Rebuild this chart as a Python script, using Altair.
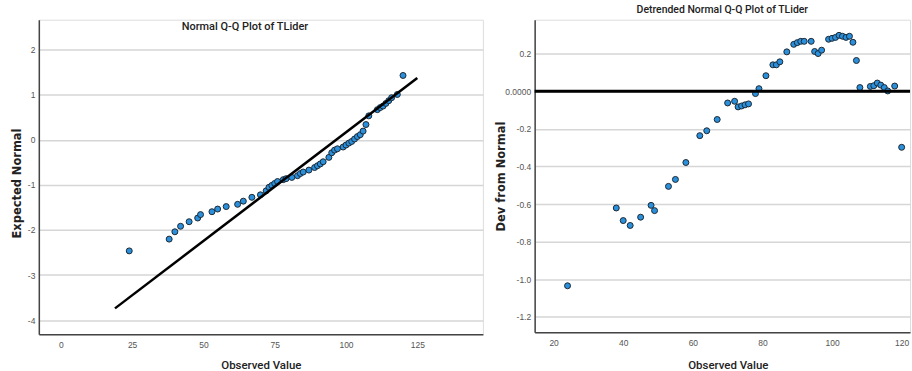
import altair as alt
import pandas as pd

# Observed values (x), expected normal (left panel y), deviation from normal (right panel y)
observed = [24, 38, 40, 42, 45, 48, 49, 53, 55, 58, 62, 64, 67, 70, 72, 73, 74, 75, 76, 78,
            79, 81, 83, 84, 85, 87, 89, 90, 91, 92, 94, 95, 96, 97, 99, 100, 101, 102, 103, 104,
            105, 106, 107, 108, 111, 112, 113, 114, 115, 116, 118, 120]
expected = [-2.465, -2.204, -2.041, -1.919, -1.818, -1.736, -1.660, -1.596, -1.537, -1.482,
            -1.432, -1.362, -1.277, -1.221, -1.133, -1.055, -1.012, -0.969, -0.926, -0.885,
            -0.863, -0.835, -0.797, -0.749, -0.716, -0.673, -0.616, -0.577, -0.536, -0.488,
            -0.391, -0.289, -0.230, -0.200, -0.161, -0.118, -0.075, -0.038, 0.016, 0.070,
            0.112, 0.192, 0.337, 0.530, 0.668, 0.713, 0.747, 0.806, 0.867, 0.933, 1.004, 1.426]
deviation = [-1.035, -0.621, -0.688, -0.714, -0.670, -0.607, -0.635, -0.506, -0.469, -0.379,
             -0.236, -0.210, -0.150, -0.062, -0.053, -0.083, -0.078, -0.072, -0.067, -0.012,
             0.014, 0.083, 0.141, 0.141, 0.157, 0.210, 0.250, 0.259, 0.266, 0.266,
             0.266, 0.212, 0.201, 0.219, 0.277, 0.282, 0.287, 0.298, 0.293, 0.287,
             0.293, 0.261, 0.164, 0.020, 0.026, 0.030, 0.044, 0.033, 0.020, 0.002, 0.028, -0.298]

# Reference line of the normal Q-Q plot (end points)
ref_x = [19, 125]
ref_y = [-3.74, 1.37]
# Zero line of the detrended plot
zero_line = [0.0]

left_x_ticks = [0, 25, 50, 75, 100, 125]
left_y_ticks = [-4, -3, -2, -1, 0, 1, 2]
right_x_ticks = [20, 40, 60, 80, 100, 120]
right_y_ticks = [-1.2, -1.0, -0.8, -0.6, -0.4, -0.2, 0.0, 0.2]

points = pd.DataFrame({"observed": observed, "expected": expected, "deviation": deviation})
ref = pd.DataFrame({"observed": ref_x, "expected": ref_y})
zero = pd.DataFrame({"deviation": zero_line})

TITLE_FONT = "Roboto"
LABEL_FONT = "Liberation Sans"
BOLD = "DejaVu Sans"
FILL = "#2a90dc"
STROKE = "#1c2833"
GRID = "#d6d6d6"


def x_axis(ticks, title_x, pad):
    return alt.Axis(values=ticks, grid=False, ticks=False, labelFont=LABEL_FONT, labelFontSize=8.5,
                    labelColor="#555555", labelPadding=6, domainColor="#444444", domainWidth=1.5,
                    title="Observed Value", titleFont=TITLE_FONT, titleFontSize=11.5,
                    titleFontWeight=500, titleColor="#222222", titlePadding=pad,
                    titleX=title_x, titleAlign="center")


def y_axis(ticks, title, expr, extent, pad, title_y):
    return alt.Axis(values=ticks, grid=True, gridColor=GRID, gridWidth=1.5, ticks=False,
                    labelFont=LABEL_FONT, labelFontSize=8.5, labelColor="#555555", labelPadding=4,
                    labelExpr=expr, domainColor="#444444", domainWidth=1.5,
                    minExtent=extent, maxExtent=extent,
                    title=title, titleFont=BOLD, titleFontSize=11.5, titleFontWeight="bold",
                    titleColor="#222222", titlePadding=pad, titleY=title_y, titleAlign="center")


left_expr = "datum.value < 0 ? '-' + format(-datum.value, 'd') : format(datum.value, 'd')"
right_expr = ("datum.value == 0 ? '0.0000' : (datum.value < 0 ? '-' + format(-datum.value, '.1f')"
              " : format(datum.value, '.1f'))")

lx = alt.X("observed:Q", scale=alt.Scale(domain=[-7.7, 148], nice=False, zero=False),
           axis=x_axis(left_x_ticks, 223, 11))
ly = alt.Y("expected:Q", scale=alt.Scale(domain=[-4.316, 2.662], nice=False, zero=False),
           axis=y_axis(left_y_ticks, "Expected Normal", left_expr, 14, 2, 164))

left_pts = alt.Chart(points).mark_point(filled=True, shape="circle", size=36, fill=FILL,
                                        stroke=STROKE, strokeWidth=1, opacity=1).encode(x=lx, y=ly)
left_line = alt.Chart(ref).mark_line(color="black", strokeWidth=2.5, clip=True).encode(x=lx, y=ly)

left = alt.layer(left_pts, left_line).properties(
    width=446, height=316,
    title=alt.TitleParams(text="Normal Q-Q Plot of TLider", font=TITLE_FONT, fontSize=11,
                          fontWeight=500, color="#222222", offset=-12, anchor="middle", dx=-16))

rx = alt.X("observed:Q", scale=alt.Scale(domain=[14.55, 122.4], nice=False, zero=False),
           axis=x_axis(right_x_ticks, 194, 13))
ry = alt.Y("deviation:Q", scale=alt.Scale(domain=[-1.283, 0.381], nice=False, zero=False),
           axis=y_axis(right_y_ticks, "Dev from Normal", right_expr, 26, 2, 157))

right_pts = alt.Chart(points).mark_point(filled=True, shape="circle", size=36, fill=FILL,
                                         stroke=STROKE, strokeWidth=1, opacity=1).encode(x=rx, y=ry)
right_zero = alt.Chart(zero).mark_rule(color="black", strokeWidth=3).encode(y=ry)

right = alt.layer(right_pts, right_zero).properties(
    width=377, height=314,
    title=alt.TitleParams(text="Detrended Normal Q-Q Plot of TLider", font=TITLE_FONT, fontSize=10.5,
                          fontWeight=500, color="#222222", offset=4, anchor="middle"))

chart = alt.hconcat(left, right, spacing=11).properties(
    padding={"left": 11, "top": 4, "right": 0, "bottom": 0}
).configure_view(stroke=None).configure(background="white")

chart.save("out.html", embed_options={"renderer": "svg", "actions": False})
